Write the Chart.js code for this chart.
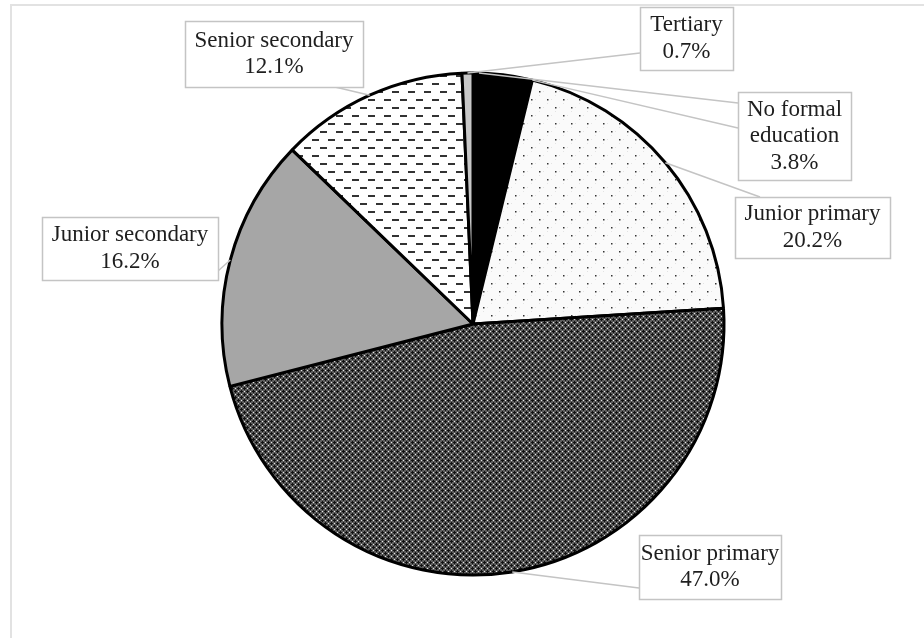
<!DOCTYPE html>
<html>
<head>
<meta charset="utf-8">
<title>Education level</title>
<script src="https://cdn.jsdelivr.net/npm/chart.js@4/dist/chart.umd.min.js"></script>
<style>
    body { margin: 0; background: #fff; }
    #wrap { position: relative; width: 924px; height: 638px; }
    #frame { position: absolute; left: 10px; top: 4px; right: 0; bottom: 0;
             border-top: 2px solid #e2e2e2; border-left: 2px solid #e2e2e2; }
    canvas { position: absolute; left: 0; top: 0; }
</style>
</head>
<body>
<div id="wrap">
    <div id="frame"></div>
    <canvas id="pieChart" width="924" height="638"></canvas>
</div>
<script>
// --- DATA ---
const categories = ['No formal education', 'Junior primary', 'Senior primary', 'Junior secondary', 'Senior secondary', 'Tertiary'];
const shares = [3.8, 20.2, 47.0, 16.2, 12.1, 0.7];
const labelText = [
    ['No formal', 'education'],
    ['Junior primary'],
    ['Senior primary'],
    ['Junior secondary'],
    ['Senior secondary'],
    ['Tertiary']
];

// --- LAYOUT OF THE CALLOUT BOXES (box rect, leader end, where on the slice the leader starts) ---
const callouts = [
    { box: [738, 92, 113, 88], leaders: [{ at: 0.1, to: [738, 103] }, { at: 1.0, to: [738, 128] }] },
    { box: [735, 197, 155, 61], leaders: [{ at: 0.5, to: [760, 197] }] },
    { box: [639, 535, 142, 64], leaders: [{ at: 0.5, to: [639, 588] }] },
    { box: [42, 217, 176, 63], leaders: [{ at: 0.5, to: [218, 271] }] },
    { box: [185, 21, 178, 66], leaders: [{ at: 0.5, to: [335, 87] }] },
    { box: [640, 7, 93, 63], leaders: [{ at: 0.5, to: [640, 53] }] }
];

// --- FILL PATTERNS ---
function makePattern(w, h, paint) {
    const c = document.createElement('canvas');
    c.width = w; c.height = h;
    const g = c.getContext('2d');
    paint(g);
    return g.createPattern(c, 'repeat');
}

const dotPattern = makePattern(16, 16, g => {
    g.fillStyle = '#fafafa'; g.fillRect(0, 0, 16, 16);
    g.fillStyle = '#e3e3e3';
    g.fillRect(7, 3, 1, 1); g.fillRect(15, 11, 1, 1);
    g.fillRect(3, 7, 1, 1); g.fillRect(11, 15, 1, 1);
    g.fillStyle = '#333';
    g.fillRect(3, 3, 1.5, 1.5); g.fillRect(11, 11, 1.5, 1.5);
});

const crossPattern = makePattern(6, 6, g => {
    g.fillStyle = '#5c5c5c'; g.fillRect(0, 0, 6, 6);
    g.fillStyle = '#111';
    [[1, 0], [0, 1], [1, 1], [2, 1], [1, 2], [4, 3], [3, 4], [4, 4], [5, 4], [4, 5]]
        .forEach(p => g.fillRect(p[0], p[1], 1, 1));
    g.fillStyle = '#e8e8e8';
    g.fillRect(4, 1, 1, 1); g.fillRect(1, 4, 1, 1);
});

const dashPattern = makePattern(16, 16, g => {
    g.fillStyle = '#fff'; g.fillRect(0, 0, 16, 16);
    g.fillStyle = '#333';
    g.fillRect(0, 3, 7, 2);
    g.fillRect(8, 11, 7, 2);
});

const sliceFills = ['#000000', dotPattern, crossPattern, '#a6a6a6', dashPattern, '#c8c8c8'];

// --- CALLOUT PLUGIN ---
const calloutPlugin = {
    id: 'callouts',
    afterDatasetsDraw(chart) {
        const ctx = chart.ctx;
        const arcs = chart.getDatasetMeta(0).data;

        ctx.save();
        ctx.strokeStyle = '#c4c4c4';
        ctx.lineWidth = 1.5;
        callouts.forEach((c, i) => {
            const arc = arcs[i];
            const p = arc.getProps(['x', 'y', 'startAngle', 'endAngle', 'outerRadius'], true);
            c.leaders.forEach(l => {
                const a = p.startAngle + (p.endAngle - p.startAngle) * l.at;
                ctx.beginPath();
                ctx.moveTo(p.x + Math.cos(a) * p.outerRadius, p.y + Math.sin(a) * p.outerRadius);
                ctx.lineTo(l.to[0], l.to[1]);
                ctx.stroke();
            });
        });

        ctx.font = '23px "Liberation Serif", "Times New Roman", serif';
        ctx.textAlign = 'center';
        ctx.textBaseline = 'middle';
        callouts.forEach((c, i) => {
            const [x, y, w, h] = c.box;
            ctx.fillStyle = '#fff';
            ctx.fillRect(x, y, w, h);
            ctx.strokeStyle = '#c4c4c4';
            ctx.strokeRect(x + 0.5, y + 0.5, w, h);

            const lines = labelText[i].concat([shares[i].toFixed(1) + '%']);
            const lh = 26.5;
            const top = y + h / 2 - (lines.length - 1) * lh / 2;
            ctx.fillStyle = '#1e1e1e';
            lines.forEach((t, k) => ctx.fillText(t, x + w / 2, top + k * lh));
        });
        ctx.restore();
    }
};

// --- RENDER ---
new Chart(document.getElementById('pieChart'), {
    type: 'pie',
    data: {
        labels: categories,
        datasets: [{
            data: shares,
            backgroundColor: sliceFills,
            borderColor: '#000',
            borderWidth: 3
        }]
    },
    options: {
        responsive: false,
        animation: false,
        radius: 251,
        layout: { padding: { left: 22, top: 10 } },
        plugins: {
            legend: { display: false },
            tooltip: { enabled: false }
        }
    },
    plugins: [calloutPlugin]
});
</script>
</body>
</html>
